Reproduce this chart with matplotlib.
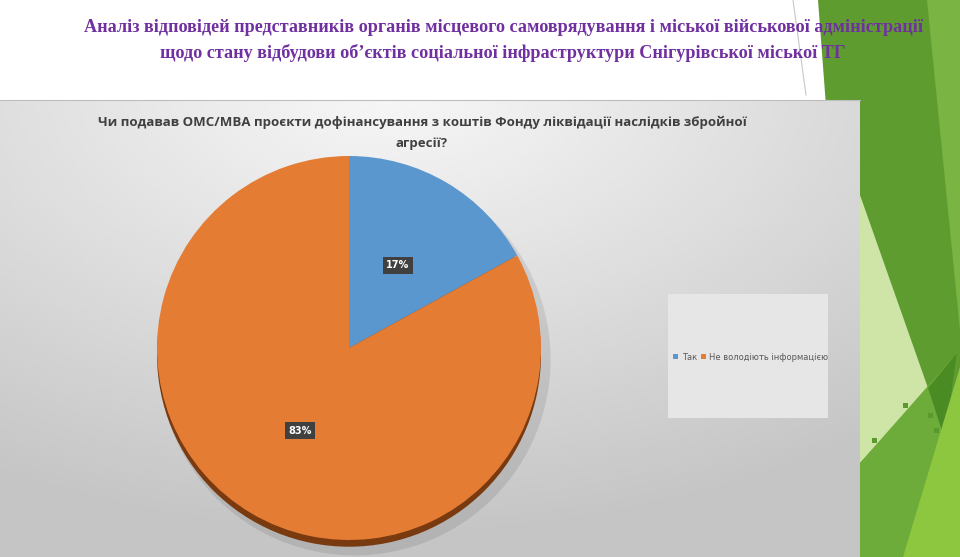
import numpy as np
import matplotlib
matplotlib.use("Agg")
import matplotlib.pyplot as plt
from matplotlib.patches import Polygon, Rectangle, Ellipse

# data
labels = ['Так', 'Не володіють інформацією']
values = [17, 83]
colors = ['#5b97cf', '#e57c34']

slide_title = ['Аналіз відповідей представників органів місцевого самоврядування і міської військової адміністрації',
               'щодо стану відбудови об’єктів соціальної інфраструктури Снігурівської міської ТГ']
chart_title = ['Чи подавав ОМС/МВА проєкти дофінансування з коштів Фонду ліквідації наслідків збройної',
               'агресії?']

W, H = 960, 557
fig = plt.figure(figsize=(W / 100, H / 100), dpi=100)
fig.patch.set_facecolor('white')

# background axes in pixel coordinates
bg = fig.add_axes([0, 0, 1, 1])
bg.set_xlim(0, W)
bg.set_ylim(H, 0)
bg.axis('off')

# green decoration on the right
greens = [
    ([(818, 0), (960, 0), (960, 557), (860, 557)], '#5e9c30'),
    ([(927, 0), (960, 0), (960, 330)], '#7ab443'),
    ([(860, 195), (928, 388), (860, 463)], '#cfe5a8'),
    ([(860, 463), (957, 353), (945, 440), (903, 557), (860, 557)], '#6dac3b'),
    ([(928, 388), (957, 353), (945, 440)], '#4b8b23'),
    ([(960, 367), (960, 557), (903, 557)], '#8dc63f'),
]
for pts, c in greens:
    bg.add_patch(Polygon(pts, closed=True, facecolor=c, edgecolor='none', zorder=1))
bg.plot([793, 806], [0, 95], color='#c8c8c8', lw=0.8, zorder=1)
for (sx, sy) in [(903, 403), (928, 413), (934, 428), (872, 438)]:
    bg.add_patch(Rectangle((sx, sy), 5, 5, facecolor='#5a9a2c', edgecolor='none', zorder=2))

# gray gradient panel
x0, x1, y0, y1 = 0, 860, 100, 557
gx = np.linspace(0, 1, 200)
gy = np.linspace(0, 1, 120)
X, Y = np.meshgrid(gx, gy)
d = np.sqrt((X - 0.45) ** 2 + ((Y + 0.05) * 0.9) ** 2)
shade = 0.975 - 0.2 * np.clip(d / 0.9, 0, 1)
img = np.dstack([shade, shade, shade])
bg.imshow(img, extent=[x0, x1, y1, y0], aspect='auto', zorder=3)
bg.plot([x0, x1], [y0, y0], color='#bdbdbd', lw=0.8, zorder=4)

# legend box
bg.add_patch(Rectangle((668, 294), 160, 124, facecolor='#e6e6e6', edgecolor='none', zorder=4))

# slide title
for i, line in enumerate(slide_title):
    bg.text(503, 27 + i * 26, line, ha='center', va='center', fontsize=13.1,
            fontweight='bold', family='Liberation Serif', color='#7030a0', zorder=5)

# chart title
for i, line in enumerate(chart_title):
    bg.text(422, 122 + i * 21, line, ha='center', va='center', fontsize=9.5,
            fontweight='bold', family='Open Sans', color='#404040', zorder=5)

# legend entries
bg.add_patch(Rectangle((673, 354), 5, 5, facecolor=colors[0], edgecolor='none', zorder=5))
bg.text(682, 357, labels[0], ha='left', va='center', fontsize=6, color='#595959', zorder=5)
bg.add_patch(Rectangle((701, 354), 5, 5, facecolor=colors[1], edgecolor='none', zorder=5))
bg.text(709, 357, labels[1], ha='left', va='center', fontsize=6, color='#595959', zorder=5)

# pie
cx, cy, r = 349, 348, 192
pax = fig.add_axes([(cx - r) / W, (H - cy - r) / H, 2 * r / W, 2 * r / H])
pax.set_zorder(6)
pax.patch.set_alpha(0)
pax.axis('off')

# shadow + rim for the 3D look
pax.add_patch(Ellipse((0.03, -0.06), 2.04, 2.04, facecolor='#000000', alpha=0.09,
                      edgecolor='none', clip_on=False))
pax.add_patch(Ellipse((0, -0.035), 2.0, 2.0, facecolor='#7a3a10', edgecolor='none', clip_on=False))

wedges, texts, autotexts = pax.pie(values, colors=colors, startangle=90, counterclock=False,
                                   radius=1.0, autopct='%d%%', pctdistance=0.5,
                                   wedgeprops=dict(edgecolor='none', clip_on=False),
                                   textprops=dict(color='white', fontsize=7, fontweight='bold'))
for t in autotexts:
    t.set_bbox(dict(boxstyle='square,pad=0.35', facecolor='#404040', edgecolor='none'))
pax.set_xlim(-1, 1)
pax.set_ylim(-1, 1)
pax.set_aspect('auto')

fig.savefig('out.png', dpi=100)
